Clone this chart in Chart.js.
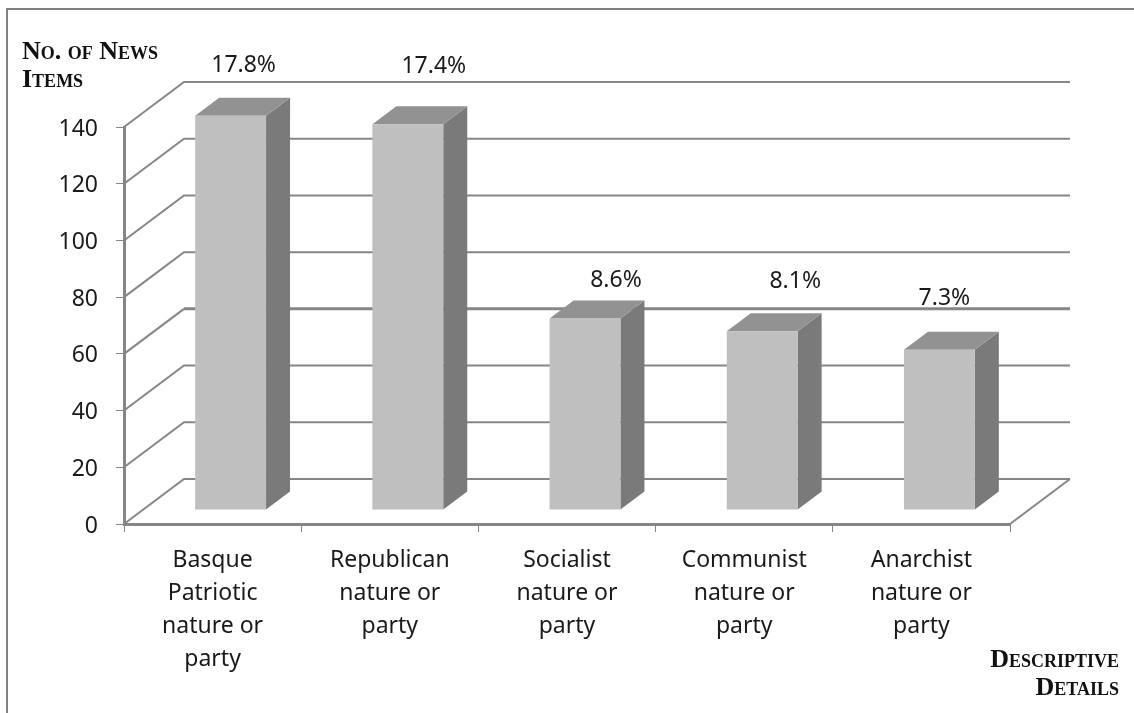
<!DOCTYPE html>
<html>
<head>
<meta charset="utf-8">
<script src="https://cdn.jsdelivr.net/npm/chart.js@4"></script>
<style>
  html, body { margin: 0; padding: 0; background: #fff; overflow: hidden; }
  #frame { position: absolute; left: 6px; top: 8px; width: 1128px; height: 705px; border-left: 2px solid #808080; border-top: 2px solid #808080; box-sizing: border-box; }
  #wrap { position: absolute; left: 0; top: 0; width: 1134px; height: 713px; }
</style>
</head>
<body>
<div id="frame"></div>
<div id="wrap"><canvas id="myChart" width="1134" height="713"></canvas></div>
<script>
const categories = [
  ["Basque", "Patriotic", "nature or", "party"],
  ["Republican", "nature or", "party"],
  ["Socialist", "nature or", "party"],
  ["Communist", "nature or", "party"],
  ["Anarchist", "nature or", "party"],
];
const newsItems = [139, 136, 67.5, 63, 56.5];
const percentLabels = ["17.8%", "17.4%", "8.6%", "8.1%", "7.3%"];
const yTicks = [0, 20, 40, 60, 80, 100, 120, 140];

const gridColor = "#868686";
const textColor = "#1a1a1a";
const textFont = "Noto Sans";
const wallDepth = { x: 60, y: -45 };
const barShift = { x: 18, y: -14 };
const barDepth = { x: 24, y: -18 };
// the percentages were placed by hand in the original, not on top of the bars
const labelNudge = [[13, -50], [26, -58], [31, -38], [33, -50], [5, -51]];

function poly(ctx, color, points) {
  ctx.fillStyle = color;
  ctx.beginPath();
  points.forEach((p, i) => (i ? ctx.lineTo(p[0], p[1]) : ctx.moveTo(p[0], p[1])));
  ctx.closePath();
  ctx.fill();
}

const walls3d = {
  id: "walls3d",
  beforeDatasetsDraw(chart) {
    const { ctx, scales } = chart;
    const left = scales.x.left;
    const right = scales.x.right;
    ctx.save();
    ctx.strokeStyle = gridColor;
    yTicks.forEach((t) => {
      const y = scales.y.getPixelForValue(t);
      ctx.lineWidth = 2;
      ctx.beginPath();
      ctx.moveTo(left, y);
      ctx.lineTo(left + wallDepth.x, y + wallDepth.y);
      // the back line at 60 is a little heavier in the original
      if (t === 60) ctx.stroke(), ctx.beginPath(), ctx.moveTo(left + wallDepth.x, y + wallDepth.y), ctx.lineWidth = 3;
      ctx.lineTo(right + wallDepth.x, y + wallDepth.y);
      ctx.stroke();
    });
    // right edge of the floor
    const y0 = scales.y.getPixelForValue(0);
    ctx.lineWidth = 2;
    ctx.beginPath();
    ctx.moveTo(right, y0);
    ctx.lineTo(right + wallDepth.x, y0 + wallDepth.y);
    ctx.stroke();
    ctx.restore();
  },
  beforeDatasetDraw(chart) {
    const { ctx } = chart;
    // side and top faces of each bar
    ctx.save();
    ctx.translate(barShift.x, barShift.y);
    chart.getDatasetMeta(0).data.forEach((bar) => {
      const l = bar.x - bar.width / 2;
      const r = bar.x + bar.width / 2;
      poly(ctx, "#7a7a7a", [[r, bar.y], [r + barDepth.x, bar.y + barDepth.y], [r + barDepth.x, bar.base + barDepth.y], [r, bar.base]]);
      poly(ctx, "#929292", [[l, bar.y], [l + barDepth.x, bar.y + barDepth.y], [r + barDepth.x, bar.y + barDepth.y], [r, bar.y]]);
    });
  },
  afterDatasetDraw(chart) {
    chart.ctx.restore();
  },
  afterDraw(chart) {
    const { ctx } = chart;
    ctx.save();
    ctx.fillStyle = textColor;
    ctx.textAlign = "center";
    ctx.textBaseline = "middle";
    ctx.font = `23px "${textFont}"`;
    chart.getDatasetMeta(0).data.forEach((bar, i) => {
      const n = labelNudge[i];
      ctx.fillText(percentLabels[i], bar.x + barShift.x + n[0], bar.y + barShift.y + n[1]);
    });
    // axis titles
    ctx.fillStyle = "#111";
    ctx.font = 'small-caps bold 26px "Liberation Serif"';
    ctx.textAlign = "left";
    ctx.fillText("No. of News", 22, 52);
    ctx.fillText("Items", 22, 80);
    ctx.textAlign = "right";
    ctx.fillText("Descriptive", 1119, 660);
    ctx.fillText("Details", 1119, 688);
    ctx.restore();
  },
};

const chart = new Chart(document.getElementById("myChart"), {
  type: "bar",
  data: {
    labels: categories,
    datasets: [
      {
        data: newsItems,
        backgroundColor: "#bfbfbf",
        categoryPercentage: 1,
        barPercentage: 0.4,
        clip: false,
      },
    ],
  },
  options: {
    responsive: false,
    animation: false,
    layout: { padding: { top: 127, right: 124, left: 0, bottom: 0 } },
    plugins: {
      legend: { display: false },
      title: { display: false },
      tooltip: { enabled: false },
    },
    scales: {
      x: {
        afterFit: (scale) => { scale.height = 189; },
        grid: { drawOnChartArea: false, color: gridColor, tickLength: 8, lineWidth: 1 },
        border: { color: gridColor, width: 3 },
        ticks: { color: textColor, font: { family: textFont, size: 23, lineHeight: 1.435 }, maxRotation: 0, autoSkip: false, padding: 12 },
      },
      y: {
        min: 0,
        max: 140,
        afterFit: (scale) => { scale.width = 124; },
        afterBuildTicks: (scale) => { scale.ticks = yTicks.map((v) => ({ value: v })); },
        grid: { drawOnChartArea: false, color: gridColor, tickLength: 8, lineWidth: 1 },
        border: { color: gridColor, width: 3 },
        ticks: { color: textColor, font: { family: textFont, size: 23 }, padding: 18, labelOffset: 2 },
      },
    },
  },
  plugins: [walls3d],
});
</script>
</body>
</html>
